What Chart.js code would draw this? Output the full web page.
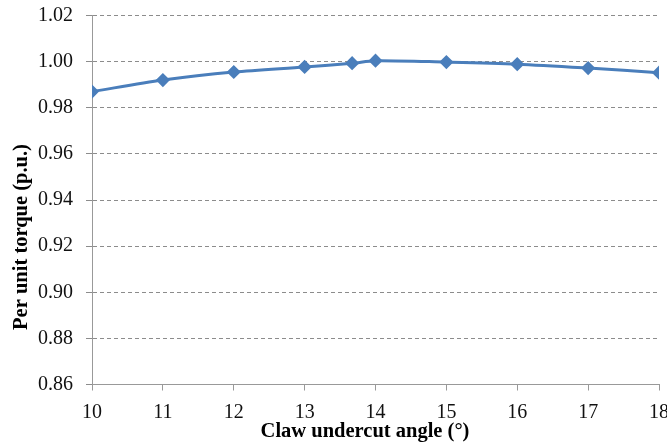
<!DOCTYPE html>
<html>
<head>
<meta charset="utf-8">
<script src="https://cdn.jsdelivr.net/npm/chart.js@4"></script>
<style>
  html, body { margin: 0; padding: 0; background: #fff; }
  #wrap { width: 667px; height: 443px; }
</style>
</head>
<body>
<div id="wrap"><canvas id="torqueChart"></canvas></div>
<script>
// claw undercut angle (deg) vs per unit torque
const angles = [10, 11, 12, 13, 13.67, 14, 15, 16, 17, 18];
const torque = [0.987, 0.992, 0.9955, 0.9977, 0.9993, 1.0004, 0.9998, 0.9989, 0.9972, 0.9952];
const xTicks = [10, 11, 12, 13, 14, 15, 16, 17, 18];
const yTicks = [0.86, 0.88, 0.90, 0.92, 0.94, 0.96, 0.98, 1.00, 1.02];
const xTitle = 'Claw undercut angle (°)';
const yTitle = 'Per unit torque (p.u.)';

const serif = 'Liberation Serif';
const lineBlue = '#4a7ebb';
Chart.defaults.font.family = serif;

// axis titles drawn by hand so they sit where the layout wants them
const axisTitles = {
  id: 'axisTitles',
  afterDraw(chart) {
    const c = chart.ctx;
    c.save();
    c.fillStyle = '#000';
    c.font = 'bold 20.5px ' + serif;
    c.textAlign = 'center';
    c.textBaseline = 'alphabetic';
    c.fillText(xTitle, 365, 437);
    c.translate(27, 237);
    c.rotate(-Math.PI / 2);
    c.fillText(yTitle, 0, 0);
    c.restore();
  }
};

const ctx = document.getElementById('torqueChart').getContext('2d');
new Chart(ctx, {
  type: 'scatter',
  data: {
    datasets: [{
      data: angles.map((a, i) => ({ x: a, y: torque[i] })),
      showLine: true,
      borderColor: lineBlue,
      backgroundColor: lineBlue,
      borderWidth: 3,
      tension: 0.3,
      pointStyle: 'rectRot',
      pointRadius: 5,
      pointHoverRadius: 5
    }]
  },
  options: {
    responsive: true,
    maintainAspectRatio: false,
    animation: false,
    layout: { padding: { top: 15.5, right: 7, left: 0, bottom: 0 } },
    plugins: { legend: { display: false }, tooltip: { enabled: false } },
    scales: {
      x: {
        type: 'linear',
        min: xTicks[0],
        max: xTicks[xTicks.length - 1],
        afterBuildTicks: axis => { axis.ticks = xTicks.map(v => ({ value: v })); },
        afterFit: axis => {
          axis.height = 58.5;
          axis.paddingLeft = 0;
          axis.paddingRight = 0;
        },
        grid: { drawOnChartArea: false, drawTicks: true, tickLength: 6, color: '#999' },
        border: { color: '#999', width: 1 },
        ticks: { color: '#111', font: { family: serif, size: 20 }, padding: 10, maxRotation: 0 }
      },
      y: {
        min: yTicks[0],
        max: yTicks[yTicks.length - 1],
        afterBuildTicks: axis => { axis.ticks = yTicks.map(v => ({ value: v })); },
        afterFit: axis => {
          axis.width = 92;
          axis.paddingTop = 0;
          axis.paddingBottom = 0;
        },
        grid: { color: '#8c8c8c', tickLength: 6, lineWidth: 1 },
        border: { color: '#999', width: 1, dash: [4, 3] },
        ticks: {
          color: '#111',
          font: { family: serif, size: 20 },
          padding: 13,
          callback: v => v.toFixed(2)
        }
      }
    }
  },
  plugins: [axisTitles]
});
</script>
</body>
</html>
